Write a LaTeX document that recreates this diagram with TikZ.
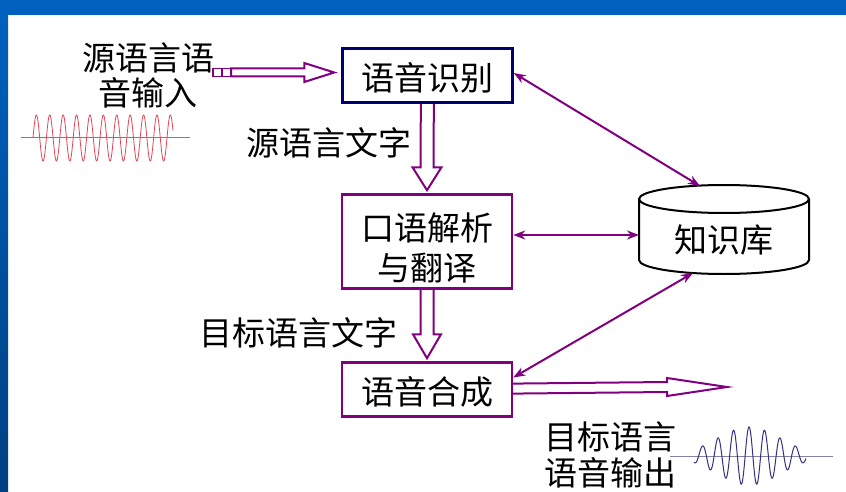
\documentclass[tikz,border=0pt]{standalone}
\usepackage{fontspec}
\setmainfont{Noto Sans CJK SC}
\usetikzlibrary{arrows.meta,calc}
\definecolor{purp}{RGB}{128,0,128}
\definecolor{navyb}{RGB}{0,0,110}
\definecolor{bandtop}{RGB}{0,96,190}
\definecolor{bandbot}{RGB}{0,64,128}
\definecolor{wavered}{RGB}{225,70,85}
\definecolor{waveblue}{RGB}{50,50,130}
\definecolor{axisgray}{RGB}{128,128,128}
\definecolor{axisblue}{RGB}{130,130,165}
\pgfdeclarelayer{back}
\pgfsetlayers{back,main}
% vertical hollow arrow: start, end, shaft half width, head half width, head length
\newcommand{\hollowV}[5]{%
  \draw[hollow] ($(#1)+(-#3,0)$) -- ($(#2)+(-#3,-#5)$) -- ($(#2)+(-#4,-#5)$) -- (#2)
    -- ($(#2)+(#4,-#5)$) -- ($(#2)+(#3,-#5)$) -- ($(#1)+(#3,0)$) -- cycle;}
% horizontal hollow arrow
\newcommand{\hollowH}[5]{%
  \draw[hollow] ($(#1)+(0,-#3)$) -- ($(#2)+(-#5,-#3)$) -- ($(#2)+(-#5,-#4)$) -- (#2)
    -- ($(#2)+(-#5,#4)$) -- ($(#2)+(-#5,#3)$) -- ($(#1)+(0,#3)$) -- cycle;}
\begin{document}
\begin{tikzpicture}[x=1pt,y=-1pt,
  cjk/.style={font=\fontsize{33}{40}\selectfont},
  box/.style={draw, line width=2.5pt, fill=white, minimum width=170pt, inner sep=0pt, align=center, cjk},
  hollow/.style={draw=purp, line width=2pt, fill=white, line join=miter},
  link/.style={draw=purp, line width=2pt, {Stealth[length=12pt,width=9pt]}-{Stealth[length=12pt,width=9pt]}},
  lbl/.style={cjk, inner sep=0pt, align=center},
  cyl/.style={draw=black, line width=2pt, fill=white}]
\useasboundingbox (0,0) rectangle (846,492);
% boxes and store
\node[box, draw=navyb, minimum height=54pt] (b1) at (427.5,75.5) {};
\node[lbl] (b1t) at (427.5,78) {语音识别};
\node[box, draw=purp, minimum height=94pt] (b2) at (427,241.5) {};
\node[lbl, font=\fontsize{33}{40}\selectfont] (b2t) at (427,248) {口语解析\\与翻译};
\node[box, draw=purp, minimum height=54pt] (b3) at (427,389.5) {};
\node[lbl] (b3t) at (427,391.5) {语音合成};
\node[minimum width=170pt, minimum height=89pt, inner sep=0pt, outer sep=0pt] (kb) at (724,229.5) {};
\draw[cyl] ($(kb.north west)+(0,14)$) -- ($(kb.south west)+(0,-14)$)
  arc[start angle=180, end angle=360, x radius=85pt, y radius=14pt] -- ($(kb.north east)+(0,14)$);
\draw[cyl] ($(kb.north)+(0,14)$) ellipse [x radius=85pt, y radius=14pt];
\node[lbl] (kbt) at (724,240) {知识库};
% labels
\node[lbl, font=\fontsize{33}{35}\selectfont] (srcin) at (148,75.5) {源语言语\\音输入};
\node[lbl, anchor=east] (srctext) at (412,143) {源语言文字};
\node[lbl, anchor=east] (tgttext) at (398,333) {目标语言文字};
\node[lbl, font=\fontsize{33}{36}\selectfont] (tgtout) at (610,455) {目标语言\\语音输出};
\coordinate (inStart) at (231,72.5);
\coordinate (outEnd) at (727,387);
% links to store
\draw[link] ($(b1.east)+(0,-2.5)$) -- ($(kb.north)+(-24,1)$);
\draw[link] ($(b2.east)+(0,-6.5)$) -- ($(kb.west)+(0,5.5)$);
\draw[link] ($(b3.east)+(0,-12)$) -- ($(kb.south)+(-31,-1)$);
\begin{pgfonlayer}{back}
\fill[white] (0,0) rectangle (846,492);
\fill[bandtop] (0,0) rectangle (846,15);
\shade[top color=bandtop, bottom color=bandbot] (0,15) rectangle (8,492);
% hollow arrows
\hollowV{b1.center}{$(b2.north)+(0,-3)$}{6.5}{14.5}{23}
\hollowV{b2.center}{$(b3.north)+(0,-3)$}{6.5}{14}{24}
\hollowH{inStart}{$(b1.west)+(-7,-3)$}{4}{9.5}{30}
\hollowH{b3.center}{outEnd}{5}{9}{60}
\draw[purp, line width=1.6pt, fill=white] (213,68.5) rectangle (221.5,76.5);
\draw[purp, line width=1.6pt, fill=white] (222.5,68.5) rectangle (231,76.5);
% waves
\draw[wavered, line width=0.8pt] plot[domain=33:173, samples=500] (\x, {138 - 23*sin((\x-33)/13.4*360)});
\draw[axisgray, line width=1pt] (21,138) -- (190,138);
\draw[axisblue, line width=1pt] (670,456) -- (833,456);
\draw[waveblue, line width=1pt] plot[domain=694:806, samples=600] (\x, {456 - 29*exp(-(((\x-749)/45)^2))*cos((\x-749)/15.5*360)});
\end{pgfonlayer}
\end{tikzpicture}
\end{document}
